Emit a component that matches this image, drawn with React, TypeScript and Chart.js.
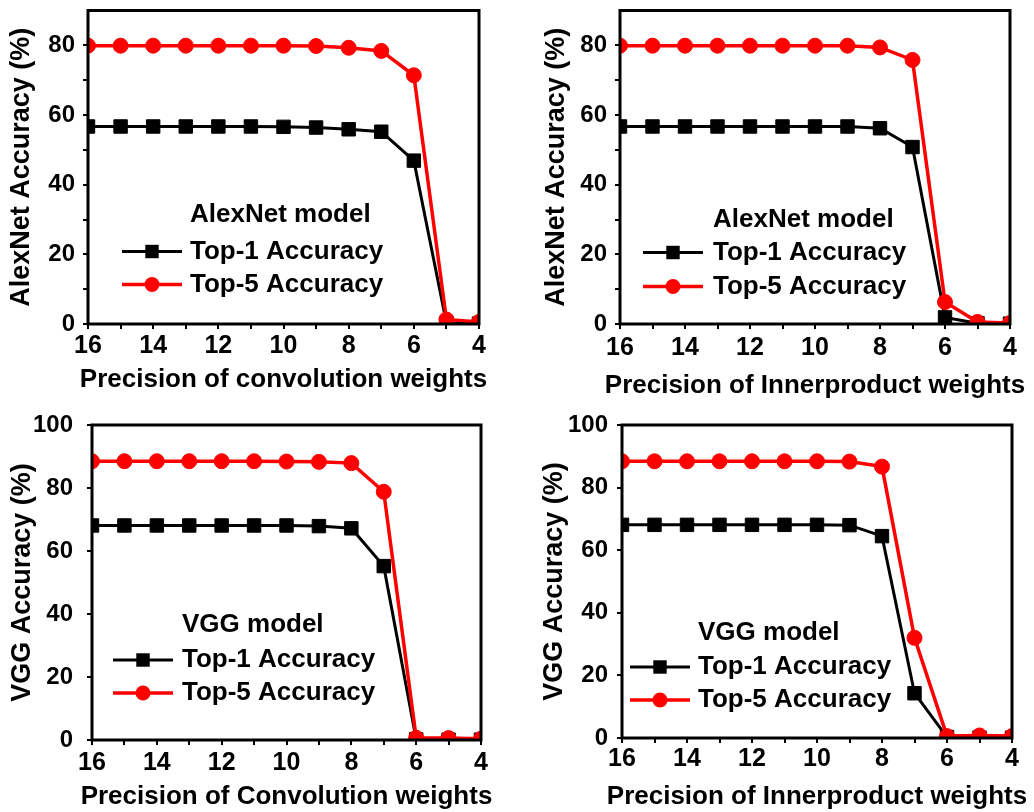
import React, { useEffect, useRef } from 'react';
import { Chart, registerables } from 'chart.js';

Chart.register(...registerables);

// Weight precision (bits) on the x axis, read from high to low
const precisionBits = [16, 15, 14, 13, 12, 11, 10, 9, 8, 7, 6, 5, 4];

// AlexNet, quantised convolution weights
const alexConvTop1 = [56.7, 56.7, 56.7, 56.7, 56.7, 56.7, 56.6, 56.4, 55.9, 55.2, 46.9, 0.3, 0.1];
const alexConvTop5 = [79.9, 79.9, 79.9, 79.9, 79.9, 79.9, 79.9, 79.8, 79.3, 78.4, 71.4, 1.3, 0.6];

// AlexNet, quantised inner-product weights
const alexInnerTop1 = [56.7, 56.7, 56.7, 56.7, 56.7, 56.7, 56.7, 56.7, 56.2, 50.8, 1.9, 0.2, 0.1];
const alexInnerTop5 = [79.9, 79.9, 79.9, 79.9, 79.9, 79.9, 79.9, 79.9, 79.4, 75.8, 6.3, 0.6, 0.3];

// VGG, quantised convolution weights
const vggConvTop1 = [68.1, 68.1, 68.1, 68.1, 68.1, 68.1, 68.1, 67.9, 67.2, 55.2, 0.2, 0.1, 0.1];
const vggConvTop5 = [88.5, 88.5, 88.5, 88.5, 88.5, 88.5, 88.4, 88.3, 87.9, 78.8, 0.7, 0.6, 0.4];

// VGG, quantised inner-product weights
const vggInnerTop1 = [68.1, 68.1, 68.1, 68.1, 68.1, 68.1, 68.1, 68.0, 64.5, 14.3, 0.3, 0.1, 0.1];
const vggInnerTop5 = [88.4, 88.4, 88.4, 88.4, 88.4, 88.4, 88.4, 88.3, 86.7, 32.0, 0.6, 0.8, 0.6];

const seriesLabels = ['Top-1 Accuracy', 'Top-5 Accuracy'];
const FONT = '"Liberation Sans", Arial, Helvetica, sans-serif';

type PanelSpec = {
  box: { left: number; top: number; width: number; height: number };
  area: { left: number; top: number; right: number; bottom: number };
  yMax: number;
  top1: number[];
  top5: number[];
  yTitle: string;
  yTitleCenterX: number;
  yTickGap: number;
  xTitle: string;
  xTitleY: number;
  xTickGap: number;
  legendTitle: string;
  legend: { lineX: number; textX: number; titleY: number; rowY: number[] };
};

const panels: PanelSpec[] = [
  {
    box: { left: 0, top: 0, width: 517, height: 400 },
    area: { left: 88, top: 6, right: 479, bottom: 324 },
    yMax: 90,
    top1: alexConvTop1,
    top5: alexConvTop5,
    yTitle: 'AlexNet Accuracy (%)',
    yTitleCenterX: 22,
    yTickGap: 8,
    xTitle: 'Precision of convolution weights',
    xTitleY: 380,
    xTickGap: 2,
    legendTitle: 'AlexNet model',
    legend: { lineX: 34, textX: 102, titleY: 204, rowY: [241, 274] },
  },
  {
    box: { left: 517, top: 0, width: 517, height: 400 },
    area: { left: 103, top: 6, right: 493, bottom: 324 },
    yMax: 90,
    top1: alexInnerTop1,
    top5: alexInnerTop5,
    yTitle: 'AlexNet Accuracy (%)',
    yTitleCenterX: 40,
    yTickGap: 8,
    xTitle: 'Precision of Innerproduct weights',
    xTitleY: 386,
    xTickGap: 4,
    legendTitle: 'AlexNet model',
    legend: { lineX: 23, textX: 93, titleY: 209, rowY: [242, 276] },
  },
  {
    box: { left: 0, top: 400, width: 517, height: 412 },
    area: { left: 92, top: 25, right: 481, bottom: 340 },
    yMax: 100,
    top1: vggConvTop1,
    top5: vggConvTop5,
    yTitle: 'VGG Accuracy (%)',
    yTitleCenterX: 23,
    yTickGap: 14,
    xTitle: 'Precision of Convolution weights',
    xTitleY: 397,
    xTickGap: 3,
    legendTitle: 'VGG model',
    legend: { lineX: 21, textX: 90, titleY: 200, rowY: [235, 268] },
  },
  {
    box: { left: 517, top: 400, width: 517, height: 412 },
    area: { left: 105, top: 25, right: 495, bottom: 338 },
    yMax: 100,
    top1: vggInnerTop1,
    top5: vggInnerTop5,
    yTitle: 'VGG Accuracy (%)',
    yTitleCenterX: 38,
    yTickGap: 9,
    xTitle: 'Precision of Innerproduct weights',
    xTitleY: 397,
    xTickGap: 1,
    legendTitle: 'VGG model',
    legend: { lineX: 8, textX: 76, titleY: 208, rowY: [242, 275] },
  },
];

// Closed black frame around the plotting area
const frameBox = {
  id: 'frameBox',
  afterDatasetsDraw(chart: any) {
    const { ctx, chartArea: a } = chart;
    ctx.save();
    ctx.lineWidth = 3;
    ctx.strokeStyle = '#000';
    ctx.strokeRect(a.left, a.top, a.right - a.left, a.bottom - a.top);
    ctx.restore();
  },
};

// Legend drawn inside the plot: a bold heading and one sample row per series
const insetLegend = {
  id: 'insetLegend',
  afterDraw(chart: any, _args: any, opts: any) {
    const { ctx, chartArea: a } = chart;
    ctx.save();
    ctx.font = `bold ${opts.fontSize}px ${FONT}`;
    ctx.fillStyle = '#000';
    ctx.textAlign = 'left';
    ctx.textBaseline = 'middle';
    ctx.fillText(opts.title, a.left + opts.textX, a.top + opts.titleY);
    chart.data.datasets.forEach((ds: any, i: number) => {
      const y = a.top + opts.rowY[i];
      const x0 = a.left + opts.lineX;
      const x1 = x0 + opts.lineLength;
      ctx.strokeStyle = ds.borderColor;
      ctx.lineWidth = ds.borderWidth;
      ctx.beginPath();
      ctx.moveTo(x0, y);
      ctx.lineTo(x1, y);
      ctx.stroke();
      const cx = (x0 + x1) / 2;
      ctx.fillStyle = ds.pointBackgroundColor;
      ctx.beginPath();
      if (ds.pointStyle === 'rect') {
        const s = Math.SQRT1_2 * ds.pointRadius;
        ctx.rect(cx - s, y - s, 2 * s, 2 * s);
      } else {
        ctx.arc(cx, y, ds.pointRadius, 0, Math.PI * 2);
      }
      ctx.fill();
      ctx.fillStyle = '#000';
      ctx.fillText(ds.label, a.left + opts.textX, y);
    });
    ctx.restore();
  },
};

// X-axis caption, centred under the plot and allowed to be wider than it
const wideXTitle = {
  id: 'wideXTitle',
  afterDraw(chart: any, _args: any, opts: any) {
    const { ctx, chartArea: a } = chart;
    ctx.save();
    ctx.font = `bold ${opts.fontSize}px ${FONT}`;
    ctx.fillStyle = '#000';
    ctx.textAlign = 'center';
    ctx.textBaseline = 'middle';
    ctx.fillText(opts.text, (a.left + a.right) / 2, opts.y);
    ctx.restore();
  },
};

function AccuracyPanel({ spec }: { spec: PanelSpec }) {
  const ref = useRef<HTMLCanvasElement | null>(null);

  useEffect(() => {
    if (!ref.current) return;
    const { box, area } = spec;
    const yAxisWidth = area.left;
    const xAxisHeight = box.height - area.bottom;
    const tickFont = { family: FONT, weight: 'bold' as const };

    const chart = new Chart(ref.current, {
      type: 'line',
      data: {
        datasets: [
          {
            label: seriesLabels[0],
            data: precisionBits.map((b, i) => ({ x: b, y: spec.top1[i] })),
            borderColor: '#000000',
            backgroundColor: '#000000',
            pointBackgroundColor: '#000000',
            pointBorderColor: '#000000',
            borderWidth: 3,
            pointStyle: 'rect',
            pointRadius: 9.5,
            pointBorderWidth: 1,
            clip: 0,
            order: 1,
          },
          {
            label: seriesLabels[1],
            data: precisionBits.map((b, i) => ({ x: b, y: spec.top5[i] })),
            borderColor: '#ff0000',
            backgroundColor: '#ff0000',
            pointBackgroundColor: '#ff0000',
            pointBorderColor: '#ff0000',
            borderWidth: 3.5,
            pointStyle: 'circle',
            pointRadius: 7.5,
            pointBorderWidth: 1,
            clip: 0,
            order: 0,
          },
        ] as any,
      },
      options: {
        animation: false,
        responsive: false,
        devicePixelRatio: 1,
        layout: {
          padding: { left: 0, top: area.top, right: box.width - area.right, bottom: 0 },
        },
        plugins: {
          legend: { display: false },
          tooltip: { enabled: false },
          insetLegend: {
            title: spec.legendTitle,
            fontSize: 26,
            lineLength: 60,
            ...spec.legend,
          },
          wideXTitle: { text: spec.xTitle, y: spec.xTitleY, fontSize: 26 },
        } as any,
        scales: {
          x: {
            type: 'linear',
            reverse: true,
            min: 4,
            max: 16,
            offset: false,
            border: { display: false },
            grid: { drawOnChartArea: false, drawTicks: true, tickLength: 5, color: '#000', lineWidth: 2 },
            ticks: {
              stepSize: 1,
              autoSkip: false,
              maxRotation: 0,
              color: '#000',
              padding: spec.xTickGap,
              font: { ...tickFont, size: 25 },
              callback: (v: any) => (Number(v) % 2 === 0 ? String(v) : ''),
            },
            afterFit: (s: any) => {
              s.height = xAxisHeight;
              s.paddingLeft = 0;
              s.paddingRight = 0;
            },
          },
          y: {
            type: 'linear',
            min: 0,
            max: spec.yMax,
            border: { display: false },
            grid: { drawOnChartArea: false, drawTicks: true, tickLength: 5, color: '#000', lineWidth: 2 },
            ticks: {
              stepSize: 10,
              color: '#000',
              padding: spec.yTickGap,
              font: { ...tickFont, size: 24 },
              // unlabelled top tick sits on the frame, so it gets no label box at all
              callback: (v: any) => {
                const n = Number(v);
                if (n % 20 === 0) return String(n);
                return n === spec.yMax ? null : '';
              },
            },
            title: {
              display: true,
              text: spec.yTitle,
              color: '#000',
              font: { ...tickFont, size: 27 },
              padding: { top: spec.yTitleCenterX - 16.2, bottom: 0 },
            },
            afterFit: (s: any) => {
              s.width = yAxisWidth;
              s.paddingTop = 0;
              s.paddingBottom = 0;
            },
          },
        } as any,
      },
      plugins: [frameBox, insetLegend, wideXTitle],
    });
    return () => chart.destroy();
  }, [spec]);

  return (
    <canvas
      ref={ref}
      width={spec.box.width}
      height={spec.box.height}
      style={{
        position: 'absolute',
        left: spec.box.left,
        top: spec.box.top,
        width: spec.box.width,
        height: spec.box.height,
      }}
    />
  );
}

export default function App() {
  return (
    <div
      style={{
        position: 'absolute',
        left: 0,
        top: 0,
        width: 1034,
        height: 812,
        background: '#ffffff',
        overflow: 'hidden',
      }}
    >
      {panels.map((p, i) => (
        <AccuracyPanel key={i} spec={p} />
      ))}
    </div>
  );
}
